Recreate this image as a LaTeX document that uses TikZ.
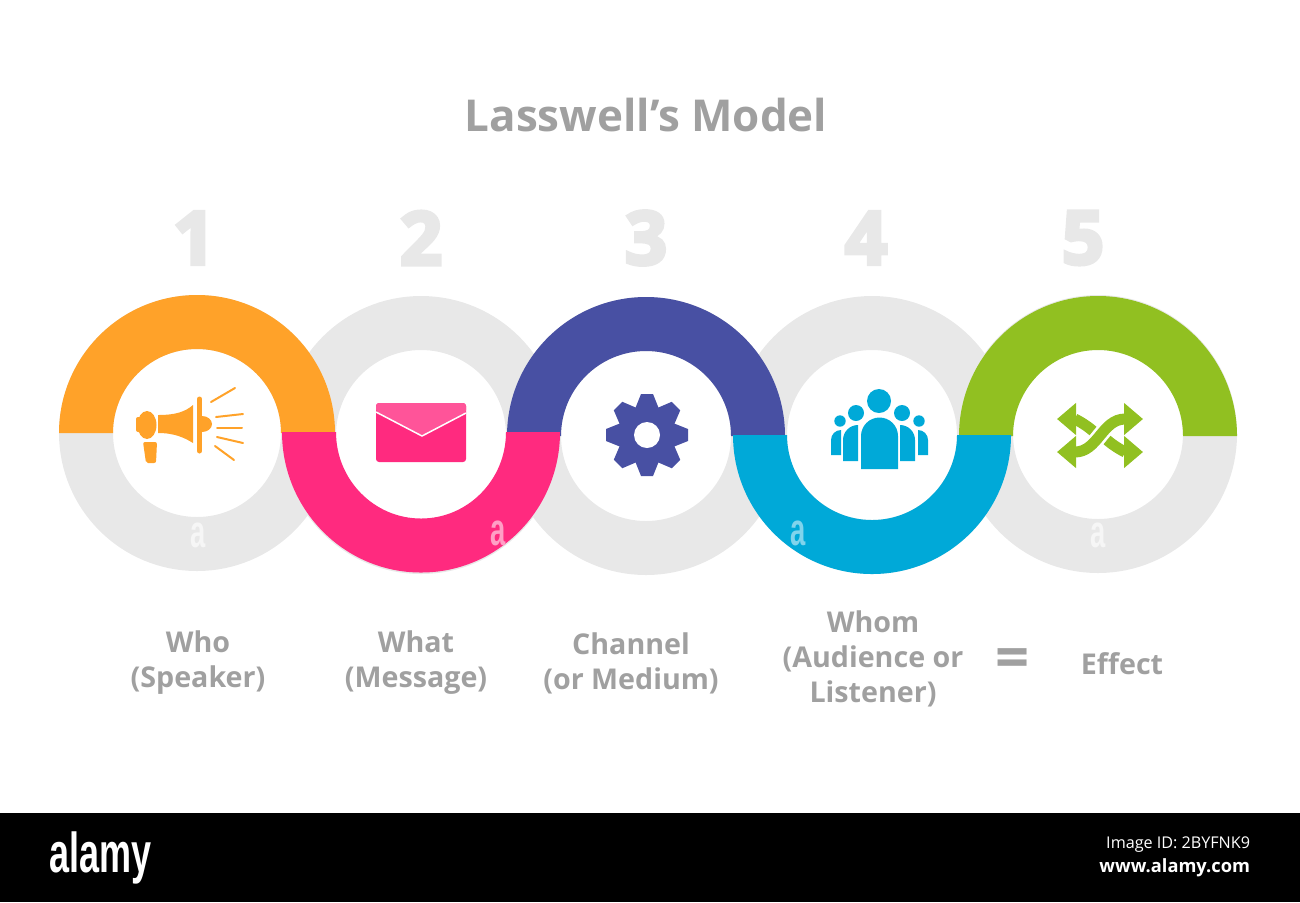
\documentclass[tikz,border=0pt]{standalone}
\usepackage{fontspec}
\setmainfont{Open Sans}
\newfontfamily\logofont{Liberation Sans}
\newfontfamily\heavyfont[BoldFeatures={FakeBold=5}]{Open Sans}
\usetikzlibrary{arrows.meta}

\definecolor{ringgray}{HTML}{E8E8E8}
\definecolor{ringorange}{HTML}{FFA229}
\definecolor{ringpink}{HTML}{FF2A7F}
\definecolor{flappink}{HTML}{FF5499}
\definecolor{ringindigo}{HTML}{4850A3}
\definecolor{ringcyan}{HTML}{00A9D8}
\definecolor{ringgreen}{HTML}{91C021}
\definecolor{labelgray}{HTML}{A0A0A0}

\begin{document}
\begin{tikzpicture}

\tikzstyle{every node} = [inner sep=0pt, outer sep=0pt]
\tikzstyle{ringline} = [line width=.54cm, draw=ringgray]
\tikzstyle{ringnumber} = [text=ringgray, font=\fontsize{21}{26}\selectfont\heavyfont\bfseries]
\tikzstyle{caption} = [text=labelgray, align=center, font=\fontsize{8.15}{9.96}\selectfont\bfseries]
\tikzstyle{ray} = [draw=ringorange, line width=.02cm, line cap=round]
\tikzstyle{shufflestem} = [draw=ringgreen, line width=.11cm]
\tikzstyle{stockmark} = [font=\fontsize{13}{15}\selectfont\logofont\bfseries, xscale=.6, transform shape]

\useasboundingbox (0,0) rectangle (13,9.02);

\coordinate (r1) at (1.97,4.69);
\coordinate (r2) at (4.21,4.67);
\coordinate (r3) at (6.46,4.66);
\coordinate (r4) at (8.72,4.67);
\coordinate (r5) at (10.98,4.68);
\coordinate (p2) at (4.21,4.70);
\coordinate (g5) at (10.98,4.66);

% gray rings
\draw[ringline] (r1) circle (1.11);
\draw[ringline] (r2) circle (1.12);
\draw[ringline] (r3) circle (1.12);
\draw[ringline] (r4) circle (1.12);
\draw[ringline] (r5) circle (1.12);

% coloured halves
\fill[ringorange] ([shift={(180:1.38)}]r1) arc (180:0:1.38) -- ([shift={(0:.84)}]r1) arc (0:180:.84) -- cycle;
\fill[ringindigo] ([shift={(180:1.39)}]r3) arc (180:0:1.39) -- ([shift={(0:.85)}]r3) arc (0:180:.85) -- cycle;
\fill[ringgreen] ([shift={(180:1.39)}]g5) arc (180:0:1.39 and 1.40) -- ([shift={(0:.85)}]g5) arc (0:180:.85 and .86) -- cycle;
\fill[ringpink] ([shift={(180:1.39)}]p2) arc (180:360:1.39 and 1.405) -- ([shift={(0:.85)}]p2) arc (360:180:.85 and .865) -- cycle;
\fill[ringcyan] ([shift={(180:1.39)}]r4) arc (180:360:1.39) -- ([shift={(0:.85)}]r4) arc (360:180:.85) -- cycle;

% megaphone
\fill[ringorange] (1.58,4.87) .. controls (1.75,4.87) and (1.85,4.90) .. (1.93,4.97) -- (1.93,4.59) .. controls (1.85,4.64) and (1.75,4.69) .. (1.58,4.69) -- cycle;
\fill[ringorange] (1.47,4.77) ellipse (.095 and .14);
\fill[ringorange, rounded corners=.02cm] (1.36,4.70) rectangle (1.44,4.85);
\fill[ringorange, rounded corners=.02cm] (1.43,4.60) -- (1.57,4.60) -- (1.56,4.39) -- (1.46,4.39) -- cycle;
\draw[ringorange, line width=.05cm, line cap=round] (1.995,5.03) -- (1.995,4.51);
\fill[ringorange] (2.02,4.86) arc (90:-90:.1 and .08) -- cycle;
\draw[ray] (2.11,5.00) -- (2.35,5.14);
\draw[ray] (2.16,4.85) -- (2.43,4.88);
\draw[ray] (2.17,4.74) -- (2.42,4.74);
\draw[ray] (2.17,4.65) -- (2.43,4.59);
\draw[ray] (2.15,4.56) -- (2.34,4.42);

% envelope
\fill[ringpink, rounded corners=.03cm] (3.76,4.40) rectangle (4.66,4.99);
\fill[flappink, rounded corners=.03cm] (3.76,4.90) -- (3.76,4.99) -- (4.66,4.99) -- (4.66,4.89) -- (4.22,4.66) -- cycle;
\draw[white, line width=.015cm] (3.76,4.90) -- (4.22,4.66) -- (4.66,4.89);

% gear
\coordinate (gear) at (6.47,4.67);
\tikzstyle{tooth} = [fill=ringindigo, shift={(gear)}]
\fill[ringindigo] (gear) circle (.29);
\fill[tooth, rotate=0] (.26,.12) -- (.41,.06) -- (.41,-.06) -- (.26,-.12) -- cycle;
\fill[tooth, rotate=45] (.26,.12) -- (.41,.06) -- (.41,-.06) -- (.26,-.12) -- cycle;
\fill[tooth, rotate=90] (.26,.12) -- (.41,.06) -- (.41,-.06) -- (.26,-.12) -- cycle;
\fill[tooth, rotate=135] (.26,.12) -- (.41,.06) -- (.41,-.06) -- (.26,-.12) -- cycle;
\fill[tooth, rotate=180] (.26,.12) -- (.41,.06) -- (.41,-.06) -- (.26,-.12) -- cycle;
\fill[tooth, rotate=225] (.26,.12) -- (.41,.06) -- (.41,-.06) -- (.26,-.12) -- cycle;
\fill[tooth, rotate=270] (.26,.12) -- (.41,.06) -- (.41,-.06) -- (.26,-.12) -- cycle;
\fill[tooth, rotate=315] (.26,.12) -- (.41,.06) -- (.41,-.06) -- (.26,-.12) -- cycle;
\fill[white] (gear) circle (.13);

% people
\fill[ringcyan] (8.79,5.01) circle (.12);
\fill[ringcyan] (8.61,4.33) -- (8.61,4.66) arc (180:0:.185) -- (8.98,4.33) -- cycle;
\fill[ringcyan] (8.56,4.89) circle (.08);
\fill[ringcyan] (9.02,4.89) circle (.08);
\fill[ringcyan] (8.43,4.41) -- (8.43,4.62) arc (180:90:.15) -- (8.58,4.41) -- cycle;
\fill[ringcyan] (9.15,4.41) -- (9.15,4.62) arc (0:90:.15) -- (9.00,4.41) -- cycle;
\fill[ringcyan] (8.40,4.81) circle (.057);
\fill[ringcyan] (9.19,4.81) circle (.057);
\fill[ringcyan] (8.31,4.47) -- (8.31,4.62) arc (180:90:.10) -- (8.41,4.47) -- cycle;
\fill[ringcyan] (9.28,4.47) -- (9.28,4.62) arc (0:90:.10) -- (9.18,4.47) -- cycle;

% shuffle arrows
\draw[shufflestem, {Triangle[length=1.9mm, width=3.1mm]}-{Triangle[length=1.9mm, width=3.1mm]}] (10.57,4.50) .. controls (10.98,4.50) and (11.02,4.83) .. (11.43,4.83);
\draw[shufflestem, {Triangle[length=1.9mm, width=3.1mm]}-] (10.57,4.83) .. controls (10.75,4.83) and (10.85,4.78) .. (10.93,4.71);
\draw[shufflestem, {Triangle[length=1.9mm, width=3.1mm]}-] (11.43,4.50) .. controls (11.25,4.50) and (11.15,4.55) .. (11.07,4.62);

\node (title) at (6.46,7.87) [text=labelgray, font=\fontsize{12.5}{15}\selectfont\bfseries] {Lasswell’s Model};

\node[ringnumber] (n1) at (1.94,6.64) {1};
\node[ringnumber] (n2) at (4.21,6.64) {2};
\node[ringnumber] (n3) at (6.46,6.64) {3};
\node[ringnumber] (n4) at (8.66,6.64) {4};
\node[ringnumber] (n5) at (10.83,6.64) {5};

\node[caption] (who) at (1.98,2.39) {Who\\(Speaker)};
\node[caption] (what) at (4.16,2.39) {What\\(Message)};
\node[caption] (channel) at (6.31,2.39) {Channel\\(or Medium)};
\node[caption] (whom) at (8.73,2.43) {Whom\\(Audience or\\Listener)};
\node[caption, font=\fontsize{17}{20}\selectfont\bfseries] (equals) at (10.13,2.385) {=};
\node[caption] (effect) at (11.22,2.38) {Effect};

% stock photo bar
\fill[black] (0,0) rectangle (13,.89);
\node[text=white, font=\fontsize{16}{18}\selectfont\logofont\bfseries, xscale=.64, transform shape] (alamy) at (1.005,.44) {alamy};
\node[text=white, anchor=east, font=\fontsize{4.6}{6}\selectfont] (imageid) at (12.5,.57) {Image ID: 2BYFNK9};
\node[text=white, anchor=east, font=\fontsize{5.2}{6}\selectfont\bfseries] (site) at (12.5,.34) {www.alamy.com};

\node[stockmark, text=white!60!ringgray] (a1) at (1.98,3.67) {a};
\node[stockmark, text=white!55!ringpink] (a2) at (4.98,3.69) {a};
\node[stockmark, text=white!50!ringcyan] (a3) at (7.98,3.69) {a};
\node[stockmark, text=white!60!ringgray] (a4) at (10.98,3.67) {a};

\end{tikzpicture}
\end{document}
